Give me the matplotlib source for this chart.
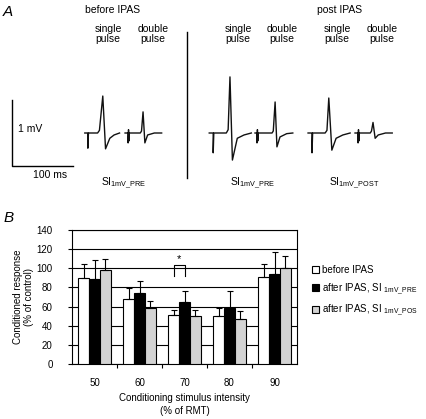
import numpy as np
import matplotlib.pyplot as plt
from matplotlib.patches import Patch

plt.rcParams['font.family'] = ['Liberation Sans', 'DejaVu Sans']
plt.rcParams['mathtext.fontset'] = 'custom'
plt.rcParams['mathtext.rm'] = 'Liberation Sans'
plt.rcParams['mathtext.it'] = 'Liberation Sans:italic'

W, H = 426, 419


def fx(x):
    return x / W


def fy(y):
    return 1 - y / H


# ---- Panel A: MEP traces (time in ms, amplitude in mV, baseline 0) ----
t_before_single = [0, 5, 5, 6, 21, 24, 29.5, 34, 41, 48, 57]
v_before_single = [0, 0, -0.23, 0, 0, 0.04, 0.56, -0.24, -0.08, -0.03, 0]
t_before_double = [0, 5, 5, 5.7, 6.4, 7, 25, 27, 29.5, 32.5, 37, 48, 60]
v_before_double = [0, 0, -0.15, 0.05, -0.12, 0, 0, 0.03, 0.32, -0.15, -0.03, 0, 0]
t_pre_single = [0, 6.5, 6.5, 7.5, 28, 31, 34, 38, 46, 57, 69]
v_pre_single = [0, 0, -0.30, 0, 0, 0.05, 0.85, -0.41, -0.08, -0.03, 0]
t_pre_double = [0, 3.3, 3.3, 4, 4.6, 5.2, 28, 30, 33, 36, 41, 52, 62]
v_pre_double = [0, 0, -0.15, 0.05, -0.12, 0, 0, 0.03, 0.47, -0.21, -0.06, -0.01, 0]
t_post_single = [0, 6.5, 6.5, 7.5, 28, 31, 34, 39, 46, 57, 69]
v_post_single = [0, 0, -0.30, 0, 0, 0.04, 0.53, -0.26, -0.08, -0.03, 0]
t_post_double = [0, 5, 5, 5.7, 6.3, 7, 25, 27, 29.5, 33, 38, 50, 61]
v_post_double = [0, 0, -0.15, 0.05, -0.12, 0, 0, 0.03, 0.16, -0.08, -0.03, 0, 0]

# ---- Panel B: conditioned response (% of control) ----
intensity = ['50', '60', '70', '80', '90']
before = [90, 68, 51, 50, 91]
before_err = [15, 11, 5, 8, 13]
pre = [89, 74, 65, 58, 94]
pre_err = [20, 13, 11, 18, 23]
post = [98, 58, 50, 47, 100]
post_err = [12, 8, 6, 8, 13]

fig = plt.figure(figsize=(W / 100, H / 100), dpi=100)

# panel A in ms / mV units (0.61 px per ms, 66 px per mV)
axA = fig.add_axes([0, fy(200), 1, 200 / H])
axA.set_xlim(0, W / 0.61)
axA.set_ylim(-67 / 66, 133 / 66)
axA.axis('off')

traces = [(t_before_single, v_before_single, 139),
          (t_before_double, v_before_double, 205),
          (t_pre_single, v_pre_single, 343),
          (t_pre_double, v_pre_double, 418),
          (t_post_single, v_post_single, 505),
          (t_post_double, v_post_double, 582)]
for t, v, start in traces:
    axA.plot(np.array(t) + start, v, color='#111111', lw=1.0)

# scale bars: 1 mV and 100 ms
axA.plot([20, 20, 120], [0.5, -0.5, -0.5], color='k', lw=1.0)
# divider between before / post
axA.plot([306.5, 306.5], [1.53, -0.68], color='k', lw=1.0)

fs = 7
fsa = 7.5
fig.text(fx(3), fy(12), 'A', fontsize=11, style='italic', va='center')
fig.text(fx(113), fy(10), 'before IPAS', fontsize=fsa, ha='center', va='center')
fig.text(fx(340), fy(10), 'post IPAS', fontsize=fsa, ha='center', va='center')
for xc in [108, 238, 337]:
    fig.text(fx(xc), fy(34), 'single\npulse', fontsize=fsa, ha='center',
             va='center', linespacing=1.05)
for xc in [153, 282, 382]:
    fig.text(fx(xc), fy(34), 'double\npulse', fontsize=fsa, ha='center',
             va='center', linespacing=1.05)
fig.text(fx(18), fy(129), '1 mV', fontsize=fsa, va='center')
fig.text(fx(33), fy(175), '100 ms', fontsize=fsa, va='center')
fig.text(fx(101), fy(183), r'SI$_{\mathrm{1mV\_PRE}}$', fontsize=fsa, va='center')
fig.text(fx(230), fy(183), r'SI$_{\mathrm{1mV\_PRE}}$', fontsize=fsa, va='center')
fig.text(fx(329), fy(183), r'SI$_{\mathrm{1mV\_POST}}$', fontsize=fsa, va='center')

# panel B
fig.text(fx(4), fy(218), 'B', fontsize=11, style='italic', va='center')
axB = fig.add_axes([fx(72), fy(364), 225 / W, 134 / H])
x = np.arange(len(intensity))
bw = 0.24
ek = dict(ecolor='k', elinewidth=0.8, capsize=2.5, capthick=0.8)
axB.bar(x - bw, before, bw, color='white', edgecolor='k', lw=0.8,
        yerr=[np.zeros(5), before_err], error_kw=ek, zorder=3)
axB.bar(x, pre, bw, color='black', edgecolor='k', lw=0.8,
        yerr=[np.zeros(5), pre_err], error_kw=ek, zorder=3)
axB.bar(x + bw, post, bw, color='#d3d3d3', edgecolor='k', lw=0.8,
        yerr=[np.zeros(5), post_err], error_kw=ek, zorder=3)

axB.set_xlim(-0.5, 4.5)
axB.set_ylim(0, 140)
axB.set_yticks(range(0, 141, 20))
axB.yaxis.grid(True, color='k', lw=0.8, zorder=0)
axB.set_axisbelow(True)
axB.set_xticks(x)
axB.set_xticklabels(intensity)
axB.set_xticks(x[:-1] + 0.5, minor=True)
axB.tick_params(axis='x', which='major', length=0, pad=10, labelsize=fs)
axB.tick_params(axis='x', which='minor', length=3, width=0.8, direction='out')
axB.tick_params(axis='y', length=3, width=0.8, pad=11, labelsize=fs)
for s in axB.spines.values():
    s.set_linewidth(0.8)

axB.set_xlabel('Conditioning stimulus intensity\n(% of RMT)', fontsize=fs,
               labelpad=4, linespacing=1.3)
axB.set_ylabel('Conditioned response\n(% of control)', fontsize=fs,
               labelpad=2, linespacing=1.1)

# significance bracket between before / pre at 70 %
i = 2
axB.plot([i - bw, i - bw, i, i], [92, 103.5, 103.5, 92], color='k', lw=0.8,
         zorder=4)
axB.text(i - bw / 2, 104.5, '*', ha='center', va='bottom', fontsize=8)

handles = [Patch(facecolor='white', edgecolor='k', lw=0.8),
           Patch(facecolor='black', edgecolor='k', lw=0.8),
           Patch(facecolor='#d3d3d3', edgecolor='k', lw=0.8)]
labels = ['before IPAS',
          r'after IPAS, SI $_{\mathrm{1mV\_PRE}}$',
          r'after IPAS, SI $_{\mathrm{1mV\_POS}}$']
fig.legend(handles, labels, loc='upper left',
           bbox_to_anchor=(fx(312), fy(265)), frameon=False, fontsize=fs,
           handlelength=0.7, handleheight=0.7, handletextpad=0.3,
           labelspacing=0.6, borderpad=0, borderaxespad=0)

fig.savefig('out.png', dpi=100)
